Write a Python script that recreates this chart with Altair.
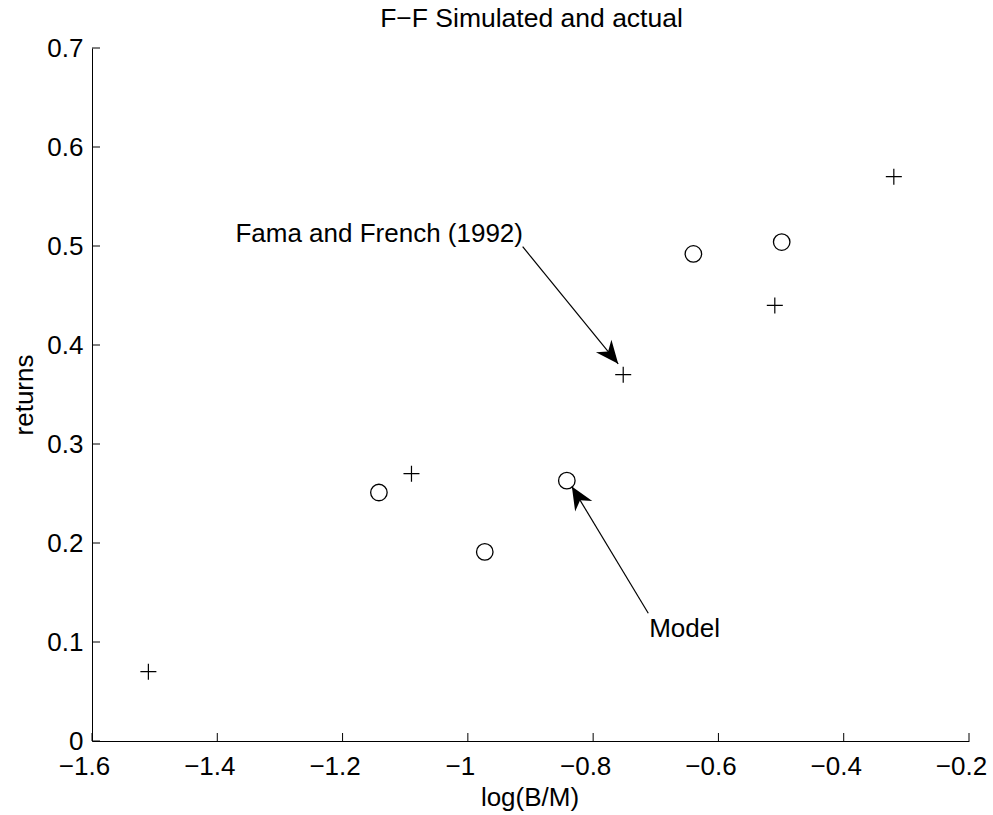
import math
import altair as alt
import pandas as pd

# ---- data ----
ff_x = [-1.51, -1.09, -0.752, -0.51, -0.32]
ff_y = [0.07, 0.27, 0.37, 0.44, 0.57]
model_x = [-1.142, -0.973, -0.842, -0.640, -0.499]
model_y = [0.251, 0.191, 0.263, 0.492, 0.504]

x_ticks = [-1.6, -1.4, -1.2, -1.0, -0.8, -0.6, -0.4, -0.2]
y_ticks = [0.0, 0.1, 0.2, 0.3, 0.4, 0.5, 0.6, 0.7]

title_text = ["F\u2212F Simulated and actual"]

ann_text = ["Fama and French (1992)", "Model"]
ann_text_x = [-0.912, -0.7105]
ann_text_y = [0.5044, 0.1054]
ann_align = ["right", "left"]
arrow_x = [-0.9125, -0.712]
arrow_y = [0.4993, 0.129]
arrow_x2 = [-0.760, -0.834]
arrow_y2 = [0.381, 0.257]

W, H = 877, 693
XMIN, XMAX = -1.6, -0.2
YMIN, YMAX = 0.0, 0.7
FONT = "Liberation Sans"
FS = 26

px_x = W / (XMAX - XMIN)
px_y = H / (YMAX - YMIN)
angles = []
for x1, y1, x2, y2 in zip(arrow_x, arrow_y, arrow_x2, arrow_y2):
    dx = (x2 - x1) * px_x
    dy = -(y2 - y1) * px_y
    a = math.degrees(math.atan2(dx, -dy)) % 360
    angles.append(a)

ff_df = pd.DataFrame({"x": ff_x, "y": ff_y})
model_df = pd.DataFrame({"x": model_x, "y": model_y})
xt_df = pd.DataFrame({"x": x_ticks})
yt_df = pd.DataFrame({"y": y_ticks})
ann_df = pd.DataFrame({"text": ann_text, "x": ann_text_x, "y": ann_text_y, "align": ann_align})
arr_df = pd.DataFrame({"x": arrow_x, "y": arrow_y, "x2": arrow_x2, "y2": arrow_y2, "ang": angles})
title_df = pd.DataFrame({"t": title_text})

xscale = alt.Scale(domain=[XMIN, XMAX], nice=False, zero=False)
yscale = alt.Scale(domain=[YMIN, YMAX], nice=False, zero=False)

xaxis = alt.Axis(
    values=x_ticks, title="log(B/M)", grid=False, ticks=False, tickSize=0,
    labelExpr="format(datum.value, '~g')", labelFont=FONT, labelFontSize=FS,
    labelColor="black", labelPadding=12, labelBaseline="top", labelOffset=-8,
    domainColor="black", domainWidth=1,
    titleFont=FONT, titleFontSize=FS, titleFontWeight="normal", titleColor="black",
    titleX=W / 2 - 1, titleY=64, titleBaseline="alphabetic", titleAlign="center",
    labelFlush=False, labelOverlap=False,
)
yaxis = alt.Axis(
    values=y_ticks, title="returns", grid=False, ticks=False, tickSize=0,
    labelExpr="format(datum.value, '~g')", labelFont=FONT, labelFontSize=FS,
    labelColor="black", labelPadding=9, labelBaseline="middle",
    domainColor="black", domainWidth=1,
    titleFont=FONT, titleFontSize=FS, titleFontWeight="normal", titleColor="black",
    titleX=-60, titleY=H / 2, titleBaseline="alphabetic", titleAlign="center", titleAngle=270,
    labelFlush=False, labelOverlap=False,
)

base_x = alt.X("x:Q", scale=xscale, axis=xaxis)
base_y = alt.Y("y:Q", scale=yscale, axis=yaxis)

plus = alt.Chart(ff_df).mark_point(
    shape="M-1,0L1,0M0,-1L0,1", filled=False, color="black", strokeWidth=1.2, size=256, opacity=1
).encode(x=base_x, y=base_y)

circ = alt.Chart(model_df).mark_point(
    shape="circle", filled=False, color="black", strokeWidth=1.3, size=272, opacity=1
).encode(x=alt.X("x:Q", scale=xscale), y=alt.Y("y:Q", scale=yscale))

xt = alt.Chart(xt_df).mark_rule(color="black", strokeWidth=1).encode(
    x=alt.X("x:Q", scale=xscale), y=alt.value(H), y2=alt.value(H - 8)
)
yt = alt.Chart(yt_df).mark_rule(color="black", strokeWidth=1).encode(
    y=alt.Y("y:Q", scale=yscale), x=alt.value(0), x2=alt.value(8)
)

arr_line = alt.Chart(arr_df).mark_rule(color="black", strokeWidth=1.2).encode(
    x=alt.X("x:Q", scale=xscale), y=alt.Y("y:Q", scale=yscale), x2="x2:Q", y2="y2:Q"
)
arr_head = alt.Chart(arr_df).mark_point(
    shape="M0,0L1,2.3L0,1.6L-1,2.3Z", filled=True, color="black", size=400, opacity=1, strokeWidth=0
).encode(
    x=alt.X("x2:Q", scale=xscale), y=alt.Y("y2:Q", scale=yscale),
    angle=alt.Angle("ang:Q", scale=None)
)

ann_right = alt.Chart(ann_df[ann_df["align"] == "right"]).mark_text(
    align="right", baseline="alphabetic", font=FONT, fontSize=FS, color="black"
).encode(x=alt.X("x:Q", scale=xscale), y=alt.Y("y:Q", scale=yscale), text="text:N")
ann_left = alt.Chart(ann_df[ann_df["align"] == "left"]).mark_text(
    align="left", baseline="alphabetic", font=FONT, fontSize=FS, color="black"
).encode(x=alt.X("x:Q", scale=xscale), y=alt.Y("y:Q", scale=yscale), text="text:N")

title_mark = alt.Chart(title_df).mark_text(
    align="center", baseline="alphabetic", font=FONT, fontSize=26.5, color="black"
).encode(x=alt.value(W / 2 + 1), y=alt.value(-21), text="t:N")

chart = alt.layer(plus, circ, xt, yt, arr_line, arr_head, ann_right, ann_left, title_mark).properties(
    width=W, height=H,
    background="white",
    autosize=alt.AutoSizeParams(type="none"),
    padding={"left": 92, "top": 48, "right": 24, "bottom": 74},
).configure_view(strokeWidth=0, stroke="transparent")

chart.save("out.html", embed_options={"renderer": "svg", "actions": False})
